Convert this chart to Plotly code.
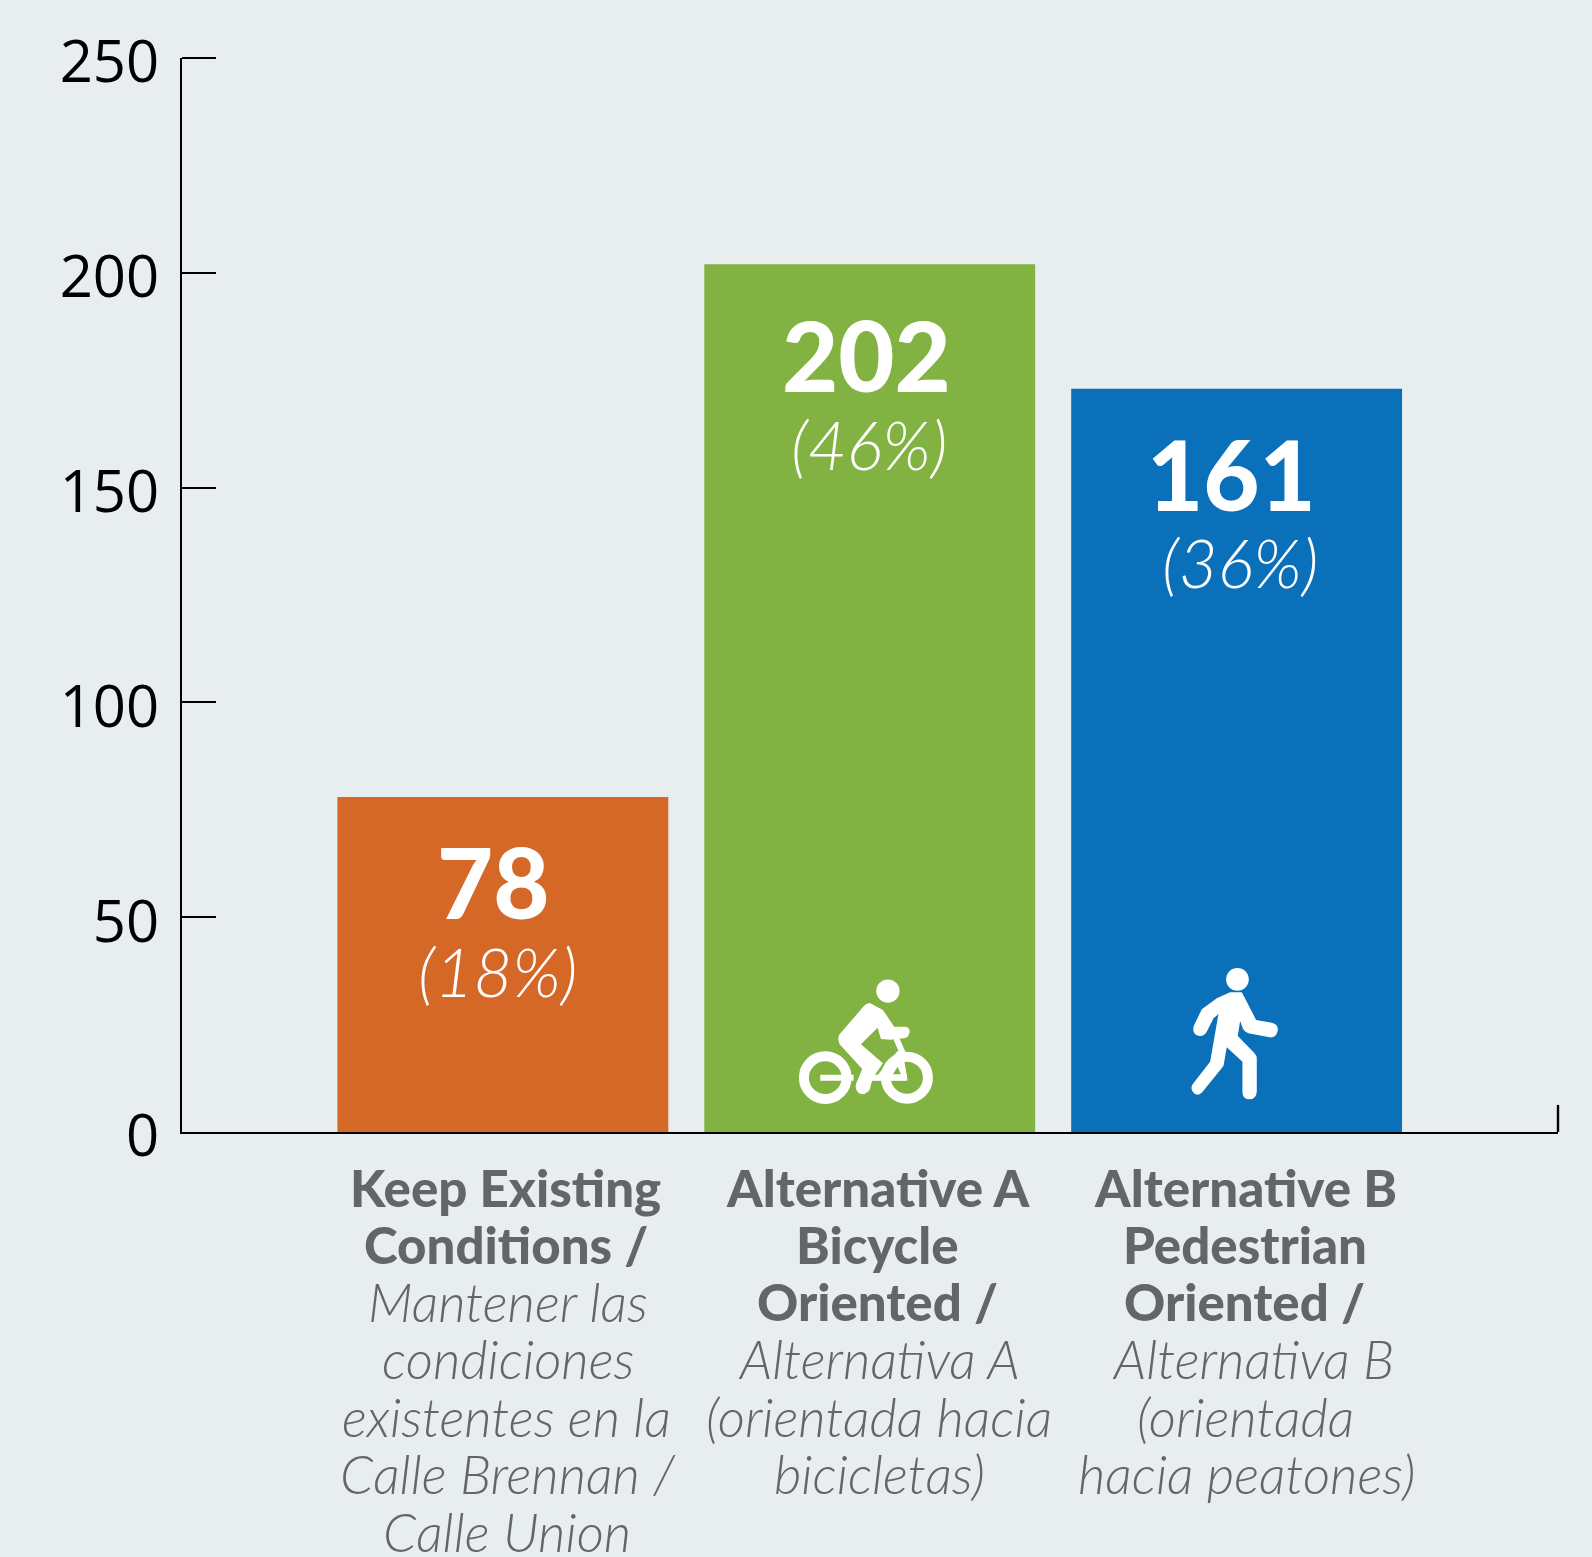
import plotly.graph_objects as go

# ---- data ----
categories = ["Keep Existing Conditions", "Alternative A Bicycle Oriented", "Alternative B Pedestrian Oriented"]
bar_heights = [78, 202, 173]          # drawn heights
count_labels = ["78", "202", "161"]   # printed labels
percent_labels = ["(18%)", "(46%)", "(36%)"]
y_ticks = [0, 50, 100, 150, 200, 250]
bold_lines = [["Keep Existing", "Conditions /"],
              ["Alternative A", "Bicycle", "Oriented /"],
              ["Alternative B", "Pedestrian", "Oriented /"]]
italic_lines = [["Mantener las", "condiciones", "existentes en la", "Calle Brennan /", "Calle Union"],
                ["Alternativa A", "(orientada hacia", "bicicletas)"],
                ["Alternativa B", "(orientada", "hacia peatones)"]]

# ---- styling ----
W, H = 1592, 1557
L, T, R, B = 181.5, 57.7, 1558, 1132
BG = "#E8EDF0"; GREY = "#636567"; GREEN = "#82B241"
colors = ["#D56727", GREEN, "#0A70B9"]
bases = [0, 0, -0.3]
count_pos = [(-9, -85), (-3, -90), (-5, -85)]
pct_pos = [(-5, -174), (-1, -180), (3, -173)]
bold_x = [[3, 3], [8, 8, 8], [8.5, 8.5, 8]]
ital_x = [[5, 5, 4, 5, 4], [9, 9, 10], [16, 9, 10]]
LINE_Y = [-55, -112, -169, -226, -284, -341, -399]

fig = go.Figure(go.Bar(x=categories, y=[h - b for h, b in zip(bar_heights, bases)], base=bases,
                       marker=dict(color=colors, line=dict(width=0)), width=331 / 367,
                       hoverinfo="skip"))

ann = []
for i, c in enumerate(categories):
    ann.append(dict(x=c, y=bar_heights[i], text=count_labels[i], showarrow=False, xshift=count_pos[i][0],
                    yshift=count_pos[i][1], font=dict(family="Lato", size=97, color="white", weight=900)))
    ann.append(dict(x=c, y=bar_heights[i], text=percent_labels[i], showarrow=False, xshift=pct_pos[i][0],
                    yshift=pct_pos[i][1], font=dict(family="Lato", size=67, color="white", weight=300, style="italic")))
    k = 0
    for j, t in enumerate(bold_lines[i]):
        ann.append(dict(x=c, y=0, text=t, showarrow=False, xshift=bold_x[i][j], yshift=LINE_Y[k],
                        font=dict(family="Lato", size=51, color=GREY, weight=900)))
        k += 1
    for j, t in enumerate(italic_lines[i]):
        ann.append(dict(x=c, y=0, text=t, showarrow=False, xshift=ital_x[i][j], yshift=LINE_Y[k],
                        font=dict(family="Lato", size=53, color=GREY, weight=300, style="italic")))
        k += 1

# ---- pictogram helpers (decoration, not data) ----
def px(x): return (x - L) / (R - L)
def py(y): return 1 - (y - T) / (B - T)

def zoom_path(cmds, ox, oy):
    out = []
    for c in cmds:
        vals = c[1:]
        pts = []
        for a in range(0, len(vals), 2):
            pts.append(f"{px(ox + vals[a] / 3):.5f},{py(oy + vals[a + 1] / 3):.5f}")
        out.append(c[0] + " ".join(pts))
    return " ".join(out) + " Z"

def poly(cmds, ox, oy, fill="white"):
    return dict(type="path", xref="paper", yref="paper", path=zoom_path(cmds, ox, oy),
                fillcolor=fill, line=dict(width=0), layer="above")

def circ(cx, cy, r, ox, oy, fill=True, w=0):
    return dict(type="circle", xref="paper", yref="paper",
                x0=px(ox + (cx - r) / 3), x1=px(ox + (cx + r) / 3),
                y0=py(oy + (cy - r) / 3), y1=py(oy + (cy + r) / 3),
                fillcolor="white" if fill else "rgba(0,0,0,0)",
                line=dict(width=w, color="white"), layer="above")

def seg(x0, y0, x1, y1, ox, oy, w):
    return dict(type="line", xref="paper", yref="paper", x0=px(ox + x0 / 3), x1=px(ox + x1 / 3),
                y0=py(oy + y0 / 3), y1=py(oy + y1 / 3), line=dict(width=w, color="white"), layer="above")

WX, WY = 1180, 960
walker = [("M", 150, 97), ("L", 185, 97), ("L", 200, 125), ("L", 228, 180), ("L", 275, 188),
          ("Q", 295, 192, 293, 212), ("Q", 288, 234, 268, 232), ("L", 205, 220), ("Q", 192, 215, 188, 205),
          ("L", 180, 183), ("L", 173, 228), ("L", 222, 278), ("Q", 230, 286, 230, 295), ("L", 230, 395),
          ("Q", 228, 418, 208, 418), ("Q", 187, 418, 187, 395), ("L", 187, 305), ("L", 140, 262), ("L", 130, 318),
          ("L", 65, 398), ("Q", 50, 412, 38, 395), ("Q", 30, 383, 38, 372), ("L", 90, 305), ("L", 115, 162),
          ("L", 100, 175), ("L", 80, 215), ("Q", 70, 232, 50, 226), ("Q", 34, 215, 42, 195), ("L", 65, 148),
          ("L", 110, 115)]
BX, BY = 790, 975
rider = [("M", 240, 85), ("L", 278, 105), ("L", 312, 155), ("L", 345, 155), ("Q", 360, 158, 358, 172),
         ("Q", 355, 190, 340, 190), ("L", 300, 194), ("L", 272, 192), ("L", 262, 158), ("L", 212, 208),
         ("L", 278, 265), ("L", 248, 308), ("L", 238, 345), ("Q", 222, 364, 205, 354), ("Q", 192, 342, 198, 325),
         ("L", 216, 282), ("L", 148, 208), ("Q", 140, 190, 148, 178), ("L", 215, 100), ("Q", 228, 82, 240, 85)]
frame = [("M", 262, 300), ("L", 322, 228), ("L", 338, 232), ("L", 352, 316), ("L", 240, 316)]
frame_hole = [("M", 308, 298), ("L", 322, 275), ("L", 332, 298)]
shapes = [
    dict(type="line", xref="paper", yref="paper", x0=0, x1=34 / (R - L), y0=1, y1=1,
         line=dict(color="black", width=2), layer="below"),
    dict(type="line", xref="paper", yref="y", x0=1, x1=1, y0=0, y1=6.3, line=dict(color="black", width=2.4), layer="below"),
    circ(172, 58, 34, WX, WY), poly(walker, WX, WY),
    circ(293, 48, 35, BX, BY), poly(rider, BX, BY),
    circ(105, 308, 64, BX, BY, False, 10), circ(350, 308, 63, BX, BY, False, 10),
    seg(90, 308, 190, 308, BX, BY, 6), seg(240, 308, 350, 308, BX, BY, 6),
    seg(318, 190, 340, 240, BX, BY, 6),
    poly(frame, BX, BY), poly(frame_hole, BX, BY, GREEN),
]

fig.update_layout(
    width=W, height=H, paper_bgcolor=BG, plot_bgcolor=BG, showlegend=False,
    margin=dict(l=L, r=W - R, t=T, b=H - B, pad=0),
    annotations=ann, shapes=shapes,
    xaxis=dict(type="category", categoryorder="array", categoryarray=categories,
               range=[-(502.5 - L) / 367, 2 + (R - 1236.5) / 367],
               showticklabels=False, ticks="", showgrid=False, zeroline=False,
               showline=True, linecolor="black", linewidth=2.4, layer="below traces"),
    yaxis=dict(range=[0, 250], tickvals=y_ticks, ticks="inside", ticklen=34, tickwidth=2, tickcolor="black",
               showgrid=False, zeroline=False, showline=True, linecolor="black", linewidth=2.4,
               ticklabelstandoff=9, ticklabelshift=4, layer="below traces",
               tickfont=dict(family="Open Sans", size=58, color="black")),
)
fig.write_html("out.html", config=dict(displayModeBar=False), post_script="document.body.style.margin='0';")
